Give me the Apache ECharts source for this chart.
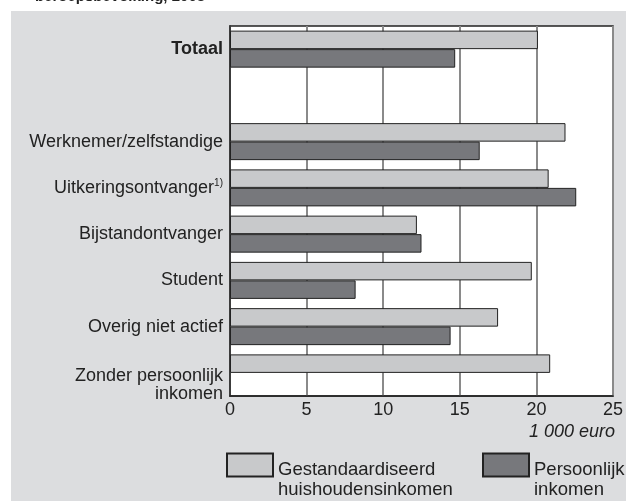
<!DOCTYPE html>
<html>
<head>
<meta charset="utf-8">
<script src="https://cdn.jsdelivr.net/npm/echarts@6/dist/echarts.min.js"></script>
<style>
  html, body { margin: 0; padding: 0; background: #fff; }
  #chart { width: 626px; height: 501px; }
</style>
</head>
<body>
<div id="chart"></div>
<script>
// inkomen naar positie in de beroepsbevolking
const categories = [
  "Totaal",
  "",
  "Werknemer/zelfstandige",
  "Uitkeringsontvanger",
  "Bijstandontvanger",
  "Student",
  "Overig niet actief",
  "Zonder persoonlijk\ninkomen",
];
const huishoudensinkomen = [20.1, null, 21.9, 20.8, 12.2, 19.7, 17.5, 20.9];
const persoonlijkInkomen = [14.7, null, 16.3, 22.6, 12.5, 8.2, 14.4, null];
const xMin = 0;
const xMax = 25;
const xStep = 5;

const font = "Liberation Sans, Arial, sans-serif";
const nameHuis = "Gestandaardiseerd\nhuishoudensinkomen";
const namePers = "Persoonlijk\ninkomen";

const chart = echarts.init(document.getElementById("chart"));

const legendBase = {
  orient: "horizontal",
  padding: 0,
  itemWidth: 46,
  itemHeight: 23,
  itemGap: 0,
  icon: "rect",
  selectedMode: false,
  // lege eerste regel schuift de tekst omlaag t.o.v. het blokje
  formatter: (name) =>
    "{g| }\n" + name.split("\n").map((l) => "{t|" + l + "}").join("\n"),
  textStyle: {
    fontFamily: font,
    color: "#222",
    rich: {
      g: { fontSize: 10, lineHeight: 29 },
      t: { fontSize: 18.5, lineHeight: 20, color: "#222" },
    },
  },
};

const option = {
  backgroundColor: "#fff",
  animation: false,
  textStyle: { fontFamily: font },
  graphic: [
    {
      type: "rect",
      z: -10,
      shape: { x: 11, y: 11, width: 615, height: 490 },
      style: { fill: "#dcdddf" },
    },
    {
      type: "text",
      left: 35,
      top: -11,
      style: {
        text: "beroepsbevolking, 2003",
        font: "bold 15px " + font,
        fill: "#222",
      },
    },
    {
      type: "text",
      right: 11,
      top: 423,
      style: {
        text: "1 000 euro",
        font: "italic 18px " + font,
        fill: "#222",
        align: "right",
      },
    },
  ],
  legend: [
    Object.assign({}, legendBase, { data: [nameHuis], left: 226, top: 440 }),
    Object.assign({}, legendBase, { data: [namePers], left: 482, top: 440 }),
  ],
  grid: {
    left: 230,
    right: 11,
    top: 26,
    bottom: 105,
    show: true,
    backgroundColor: "#fff",
    borderColor: "#222",
    borderWidth: 1.5,
  },
  xAxis: {
    type: "value",
    min: xMin,
    max: xMax,
    interval: xStep,
    axisLine: { show: true, lineStyle: { color: "#222", width: 1.5 } },
    axisTick: { show: false },
    splitLine: { show: true, lineStyle: { color: "#8a8a8a", width: 2 } },
    axisLabel: { fontSize: 18, color: "#222", margin: 5 },
  },
  yAxis: {
    type: "category",
    inverse: true,
    data: categories.map((c) =>
      c.indexOf("\n") > -1
        ? { value: c, textStyle: { lineHeight: 18, padding: [24, 0, 0, 0] } }
        : c
    ),
    axisLine: { show: true, lineStyle: { color: "#222", width: 1.5 } },
    axisTick: { show: false },
    splitLine: { show: false },
    axisLabel: {
      fontSize: 18,
      color: "#222",
      margin: 7,
      formatter: (val) => {
        if (val === "Totaal") return "{b|" + val + "}";
        if (val === "Uitkeringsontvanger") return "{a|" + val + "}{s|1)}";
        return val;
      },
      rich: {
        b: { fontSize: 18, fontWeight: "bold", color: "#222" },
        a: { fontSize: 18, color: "#222" },
        s: { fontSize: 10, color: "#222", lineHeight: 10, padding: [0, 0, 10, 0] },
      },
    },
  },
  series: [
    {
      name: nameHuis,
      type: "bar",
      data: huishoudensinkomen,
      barCategoryGap: "20%",
      barGap: "0%",
      itemStyle: { color: "#c8c9cb", borderColor: "#222", borderWidth: 1 },
    },
    {
      name: namePers,
      type: "bar",
      data: persoonlijkInkomen,
      barCategoryGap: "20%",
      barGap: "0%",
      itemStyle: { color: "#77787c", borderColor: "#222", borderWidth: 1 },
    },
  ],
};

chart.setOption(option);
</script>
</body>
</html>
